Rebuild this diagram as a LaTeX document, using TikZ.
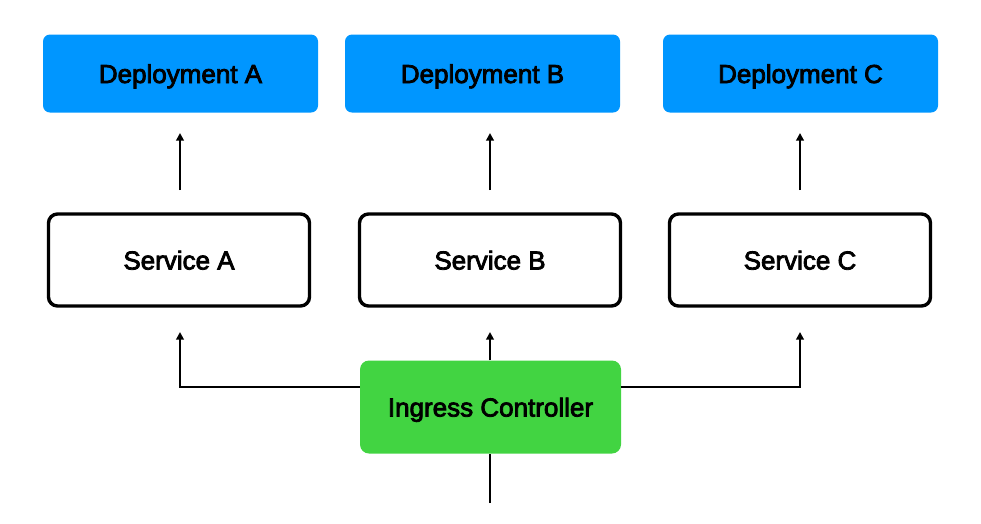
\documentclass[tikz,border=0pt]{standalone}
\usepackage{fontspec}
\setmainfont{Liberation Sans}
\newfontfamily\labelfont[FakeBold=3]{Liberation Sans}
\usetikzlibrary{arrows.meta}
\definecolor{depblue}{HTML}{0096FF}
\definecolor{ingreen}{HTML}{42D442}
\begin{document}
\begin{tikzpicture}[x=1pt,y=-1pt,
  lbl/.style={inner sep=0pt,font=\labelfont\fontsize{26}{30}\selectfont,text height=19pt,text depth=0pt},
  depbox/.style={lbl,fill=depblue,draw=none,rounded corners=7pt,minimum width=275pt,minimum height=78pt},
  svcbox/.style={lbl,fill=white,draw=black,line width=3.4pt,rounded corners=9pt,minimum width=261pt,minimum height=92pt},
  ingbox/.style={lbl,fill=ingreen,draw=none,rounded corners=9pt,minimum width=261pt,minimum height=93pt},
  conn/.style={line width=2pt,-{Triangle[length=7.5pt,width=7.5pt]}},
  plain/.style={line width=2pt}]
\useasboundingbox (0,0) rectangle (981,523);
\node[depbox] (da) at (180.5,73.5) {Deployment A};
\node[depbox] (db) at (482.5,73.5) {Deployment B};
\node[depbox] (dc) at (800.5,73.5) {Deployment C};
\node[svcbox] (sa) at (179,260) {Service A};
\node[svcbox] (sb) at (490,260) {Service B};
\node[svcbox] (sc) at (800,260) {Service C};
\node[ingbox] (ic) at (490.5,407) {Ingress Controller};
\coordinate (ta) at (180,190); \coordinate (ha) at (180,133);
\coordinate (tb) at (490,190); \coordinate (hb) at (490,133);
\coordinate (tc) at (800,190); \coordinate (hc) at (800,133);
\draw[conn] (ta) -- (ha);
\draw[conn] (tb) -- (hb);
\draw[conn] (tc) -- (hc);
\coordinate (la) at (180,332); \coordinate (lc) at (800,332);
\coordinate (mb) at (490,332);
\coordinate (bot) at (490,503);
\draw[conn] (ic.west |- 0,387) -| (la);
\draw[conn] (ic.east |- 0,387) -| (lc);
\draw[conn] (ic.north -| 490,0) -- (mb);
\draw[plain] (bot) -- (ic.south -| 490,0);
\end{tikzpicture}
\end{document}
